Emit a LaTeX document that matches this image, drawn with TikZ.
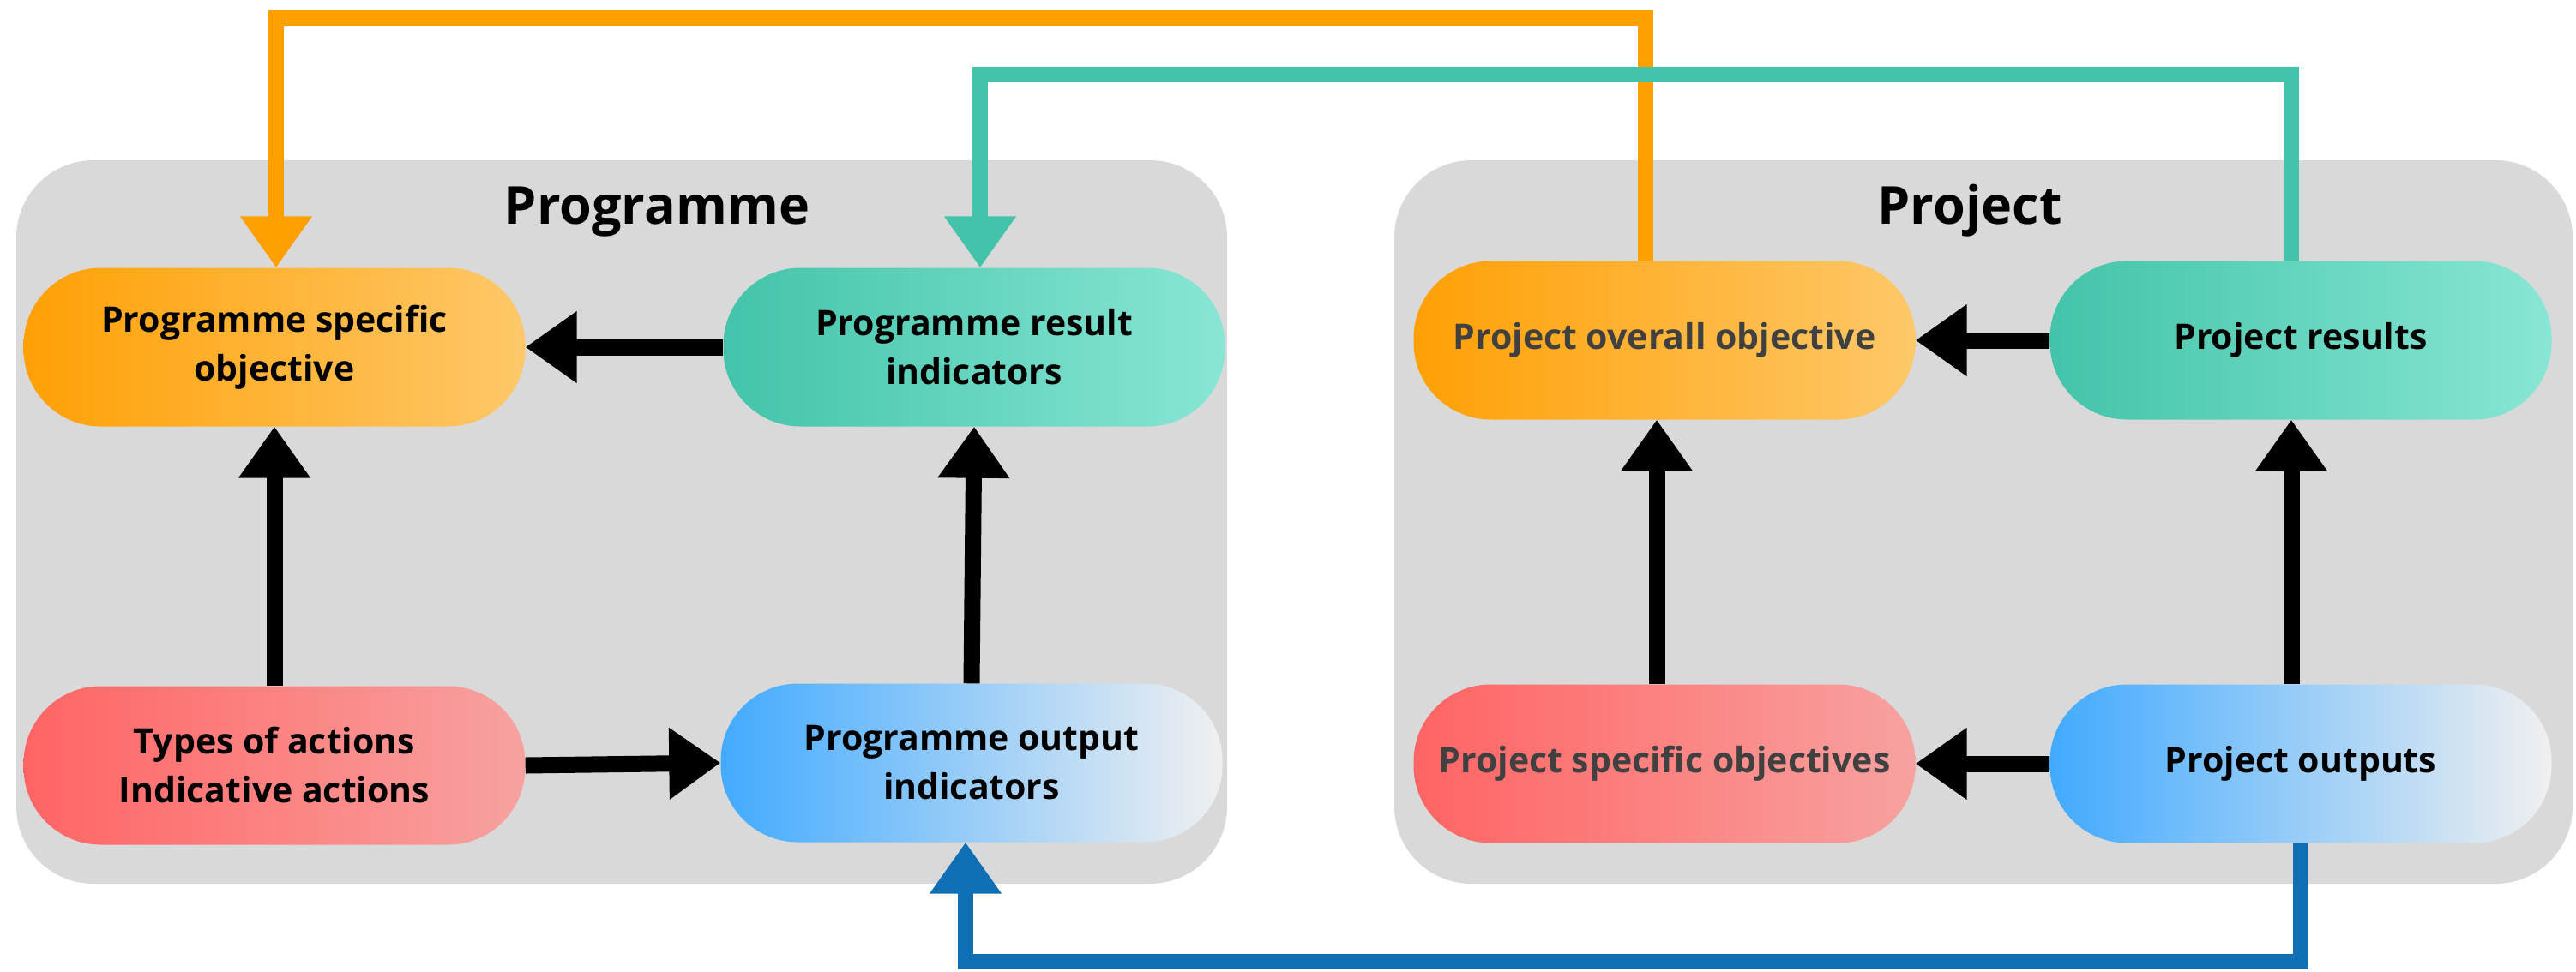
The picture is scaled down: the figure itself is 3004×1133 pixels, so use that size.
\documentclass[tikz,border=0pt]{standalone}
\usepackage{fontspec}
\setmainfont{Open Sans}
\usetikzlibrary{arrows.meta}
\definecolor{panelgray}{RGB}{217,217,217}
\definecolor{orL}{RGB}{255,160,5}
\definecolor{orR}{RGB}{254,200,105}
\definecolor{tlL}{RGB}{67,196,170}
\definecolor{tlR}{RGB}{136,230,212}
\definecolor{rdL}{RGB}{255,100,100}
\definecolor{rdR}{RGB}{247,162,160}
\definecolor{blL}{RGB}{66,170,255}
\definecolor{blR}{RGB}{240,240,240}
\definecolor{orLine}{RGB}{255,160,0}
\definecolor{tlLine}{RGB}{67,196,170}
\definecolor{blLine}{RGB}{16,110,180}
\definecolor{darktext}{RGB}{64,64,64}
\tikzset{
  panel/.style={fill=panelgray, rounded corners=90pt, inner sep=0pt},
  pill/.style={minimum width=585pt, minimum height=185pt, rounded corners=90pt,
    inner sep=0pt, align=center, font=\fontsize{41}{57}\selectfont\bfseries},
  orpill/.style={pill, left color=orL, right color=orR},
  tlpill/.style={pill, left color=tlL, right color=tlR},
  rdpill/.style={pill, left color=rdL, right color=rdR},
  blpill/.style={pill, left color=blL, right color=blR},
  ptitle/.style={font=\fontsize{61}{70}\selectfont\bfseries, anchor=base},
  blk/.style={line width=19pt, -{Triangle[width=80pt,length=60pt]}},
  conn/.style={line width=18pt, -{Triangle[width=80pt,length=60pt]}},
}
\begin{document}
\begin{tikzpicture}[x=1pt,y=-1pt]
\useasboundingbox (0,0) rectangle (3004,1133);
% panels
\node[panel, minimum width=1412pt, minimum height=844pt] (progpanel) at (725,609) {};
\node[panel, minimum width=1374pt, minimum height=844pt] (projpanel) at (2313,609) {};
\node[ptitle] (progtitle) at (766,261) {Programme};
\node[ptitle] (projtitle) at (2297,261) {Project};
% programme nodes
\node[orpill] (pso) at (320,405) {Programme specific\\objective};
\node[tlpill] (pri) at (1136,405) {Programme result\\indicators};
\node[rdpill] (toa) at (320,893) {Types of actions\\Indicative actions};
\node[blpill] (poi) at (1133,890) {Programme output\\indicators};
% project nodes
\node[orpill, text=darktext] (poo) at (1941,397) {Project overall objective};
\node[tlpill] (pres) at (2683,397) {Project results};
\node[rdpill, text=darktext] (pspo) at (1941,891) {Project specific objectives};
\node[blpill] (pout) at (2683,891) {Project outputs};
% black arrows
\draw[blk] (pri.west) -- (pso.east);
\draw[blk] (toa.north) -- (pso.south);
\draw[blk] (toa.east) -- (poi.west);
\draw[blk] (poi.north) -- (pri.south);
\draw[blk] (pres.west) -- (poo.east);
\draw[blk] ([xshift=-9pt]pspo.north) -- ([xshift=-9pt]poo.south);
\draw[blk] ([xshift=-11pt]pout.north) -- ([xshift=-11pt]pres.south);
\draw[blk] (pout.west) -- (pspo.east);
% long connectors
\coordinate (otop) at (1000,21);
\coordinate (ttop) at (1900,87);
\coordinate (bbot) at (1900,1122);
\draw[conn, orLine] ([xshift=-22pt]poo.north) |- (otop) -| ([xshift=2pt]pso.north);
\draw[conn, tlLine] ([xshift=-11pt]pres.north) |- (ttop) -| ([xshift=7pt]pri.north);
\draw[conn, blLine] (pout.south) |- (bbot) -| ([xshift=-7pt]poi.south);
\end{tikzpicture}
\end{document}
